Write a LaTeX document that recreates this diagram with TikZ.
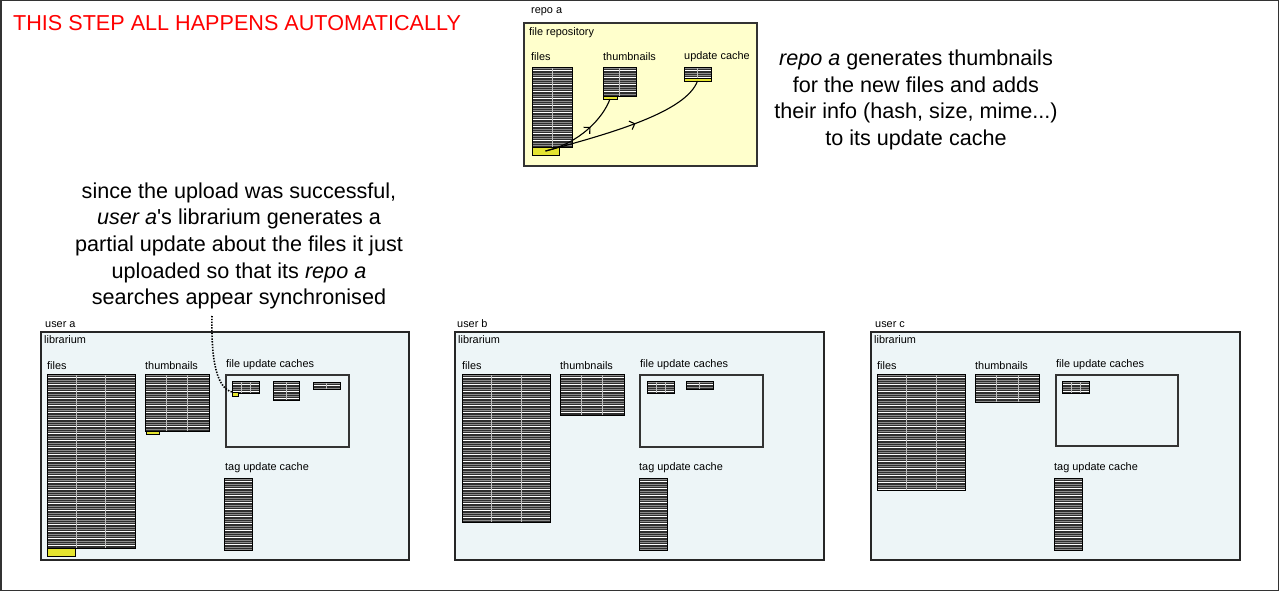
\documentclass[tikz,border=0pt]{standalone}
\usepackage{fontspec}
\setmainfont{Liberation Sans}
\usetikzlibrary{calc,decorations.markings,arrows.meta}
\definecolor{repofill}{RGB}{255,255,204}
\definecolor{libfill}{RGB}{237,245,247}
\definecolor{hl}{RGB}{228,228,48}
\definecolor{tbldark}{RGB}{46,46,46}
\definecolor{alert}{RGB}{255,0,0}
\newcommand\tblstripes{%
  \foreach \k in {0,...,30}{%
    \draw[white, line width=0.8pt] ([yshift={-(3.5+7*\k)*1pt}]path picture bounding box.north west) -- ++(300pt,0pt);
    \draw[black!45, line width=0.4pt] ([yshift={-(1.2+7*\k)*1pt}]path picture bounding box.north west) -- ++(300pt,0pt);
    \draw[black!45, line width=0.4pt] ([yshift={-(5.8+7*\k)*1pt}]path picture bounding box.north west) -- ++(300pt,0pt);
  }}
\newcommand\tblvline[1]{%
  \draw[white!75!black, line width=0.4pt] ($(path picture bounding box.north west)!#1!(path picture bounding box.north east)$) -- ++(0pt,-400pt);}
\tikzset{
  x=1pt, y=-1pt,
  base/.style={inner sep=0pt, outer sep=0pt, anchor=north west},
  tbl/.style={base, draw=black, line width=0.9pt, fill=tbldark, path picture={\tblstripes}},
  tblA/.style={base, draw=black, line width=0.9pt, fill=tbldark, path picture={\tblstripes\tblvline{0.5}}},
  tblB/.style={base, draw=black, line width=0.9pt, fill=tbldark, path picture={\tblstripes\tblvline{0.333}\tblvline{0.667}}},
  hlbox/.style={base, draw=black, line width=0.6pt, fill=hl},
  repobox/.style={base, draw=black!80, line width=1.1pt, fill=repofill},
  libbox/.style={base, draw=black!85, line width=1.1pt, fill=libfill},
  cachebox/.style={base, draw=black!80, line width=1.1pt},
  small/.style={inner sep=0pt, anchor=base west, font=\fontsize{10.9}{12}\selectfont},
  big/.style={inner sep=0pt, align=center, font=\fontsize{21.6}{26.7}\selectfont},
  flow/.style={line width=1.1pt, draw=black,
    postaction={decorate, decoration={markings, mark=at position #1 with {\arrow{Straight Barb[length=4.5pt,width=9pt,line width=1.1pt]}}}}},
  dotline/.style={line width=1.6pt, dash pattern=on 1.4pt off 1.4pt},
}
\newcommand\bx[6]{\node[#1, minimum width={(#5-#3)*1pt}, minimum height={(#6-#4)*1pt}] (#2) at (#3,#4) {};}
\begin{document}
\begin{tikzpicture}
\useasboundingbox (0,0) rectangle (1279,591);
\draw[line width=1.5pt, draw=black!80] (0.75,0.75) rectangle (1278.25,590.25);

\node[inner sep=0pt, anchor=base west, text=alert, font=\fontsize{21.6}{25}\selectfont] (title) at (13,30.5) {THIS STEP ALL HAPPENS AUTOMATICALLY};

% repo a
\node[small] (repolbl) at (531,14) {repo a};
\bx{repobox}{repo}{524}{23}{757}{166}
\node[small] (reponame) at (529,36) {file repository};
\node[small] (rfileslbl) at (531,61) {files};
\node[small] (rthumblbl) at (603,61) {thumbnails};
\node[small] (rcachelbl) at (684,60) {update cache};
\bx{tblA}{rfiles}{532}{67}{572}{147}
\bx{hlbox}{ryf}{532}{147}{559}{155}
\bx{tblA}{rthumb}{603}{67}{636}{96}
\bx{hlbox}{rty}{603}{96}{617}{99}
\bx{tblA}{rcache}{684}{67}{711}{78}
\bx{hlbox}{ruy}{684}{78}{711}{81}
\draw[flow=0.6] (ryf.center) .. controls (580,143) and (603,118) .. (rty.south);
\draw[flow=0.55] (ryf.center) .. controls (612,133) and (686,112) .. (ruy.south);

\node[big] (rtext) at (916,100) {\textit{repo a} generates thumbnails\\for the new files and adds\\their info (hash, size, mime...)\\to its update cache};

\node[big] (ltext) at (239,246) {since the upload was successful,\\\textit{user a}\textquotesingle s librarium generates a\\partial update about the files it just\\uploaded so that its \textit{repo a}\\searches appear synchronised};

% user a
\node[small] (ualbl) at (45,327) {user a};
\bx{libbox}{ulib}{41}{332}{409}{560}
\node[small] (ualib) at (44,343) {librarium};
\node[small] (uafl) at (47,369) {files};
\node[small] (uatl) at (145,369) {thumbnails};
\node[small] (uacl) at (226,367) {file update caches};
\node[small] (uagl) at (225,470) {tag update cache};
\bx{tblB}{uafiles}{47}{374}{135}{548}
\bx{hlbox}{uafy}{47}{548}{75}{556}
\bx{tblB}{uathumb}{145}{374}{209}{431}
\bx{hlbox}{uaty}{146}{431}{159}{434}
\bx{cachebox}{uacaches}{226}{375}{349}{447}
\bx{tblB}{uac1}{232}{381}{259}{393}
\bx{hlbox}{uac1y}{232}{392}{238}{396}
\bx{tblA}{uac2}{273}{381}{299}{400}
\bx{tblA}{uac3}{313}{382}{340}{389}
\bx{tbl}{uatag}{224}{478}{252}{550}
\coordinate (dotstart) at (212,316);
\draw[dotline] (dotstart) .. controls (211,362) and (217,388) .. (uac1y.north west);

% user b
\node[small] (ublbl) at (457,327) {user b};
\bx{libbox}{ublib}{455}{332}{824}{560}
\node[small] (ublib2) at (458,343) {librarium};
\node[small] (ubfl) at (462,369) {files};
\node[small] (ubtl) at (560,369) {thumbnails};
\node[small] (ubcl) at (640,367) {file update caches};
\node[small] (ubgl) at (639,470) {tag update cache};
\bx{tblB}{ubfiles}{462}{374}{550}{522}
\bx{tblB}{ubthumb}{560}{374}{624}{415}
\bx{cachebox}{ubcaches}{640}{375}{763}{447}
\bx{tblB}{ubc1}{647}{381}{674}{393}
\bx{tblA}{ubc2}{686}{381}{713}{389}
\bx{tbl}{ubtag}{639}{478}{667}{550}

% user c
\node[small] (uclbl) at (875,327) {user c};
\bx{libbox}{uclib}{871}{332}{1240}{560}
\node[small] (uclib2) at (874,343) {librarium};
\node[small] (ucfl) at (877,369) {files};
\node[small] (uctl) at (975,369) {thumbnails};
\node[small] (uccl) at (1056,367) {file update caches};
\node[small] (ucgl) at (1054,470) {tag update cache};
\bx{tblB}{ucfiles}{877}{374}{965}{490}
\bx{tblB}{ucthumb}{975}{374}{1039}{402}
\bx{cachebox}{uccaches}{1056}{375}{1178}{446}
\bx{tblB}{ucc1}{1062}{381}{1089}{393}
\bx{tbl}{uctag}{1054}{478}{1082}{550}
\end{tikzpicture}
\end{document}
